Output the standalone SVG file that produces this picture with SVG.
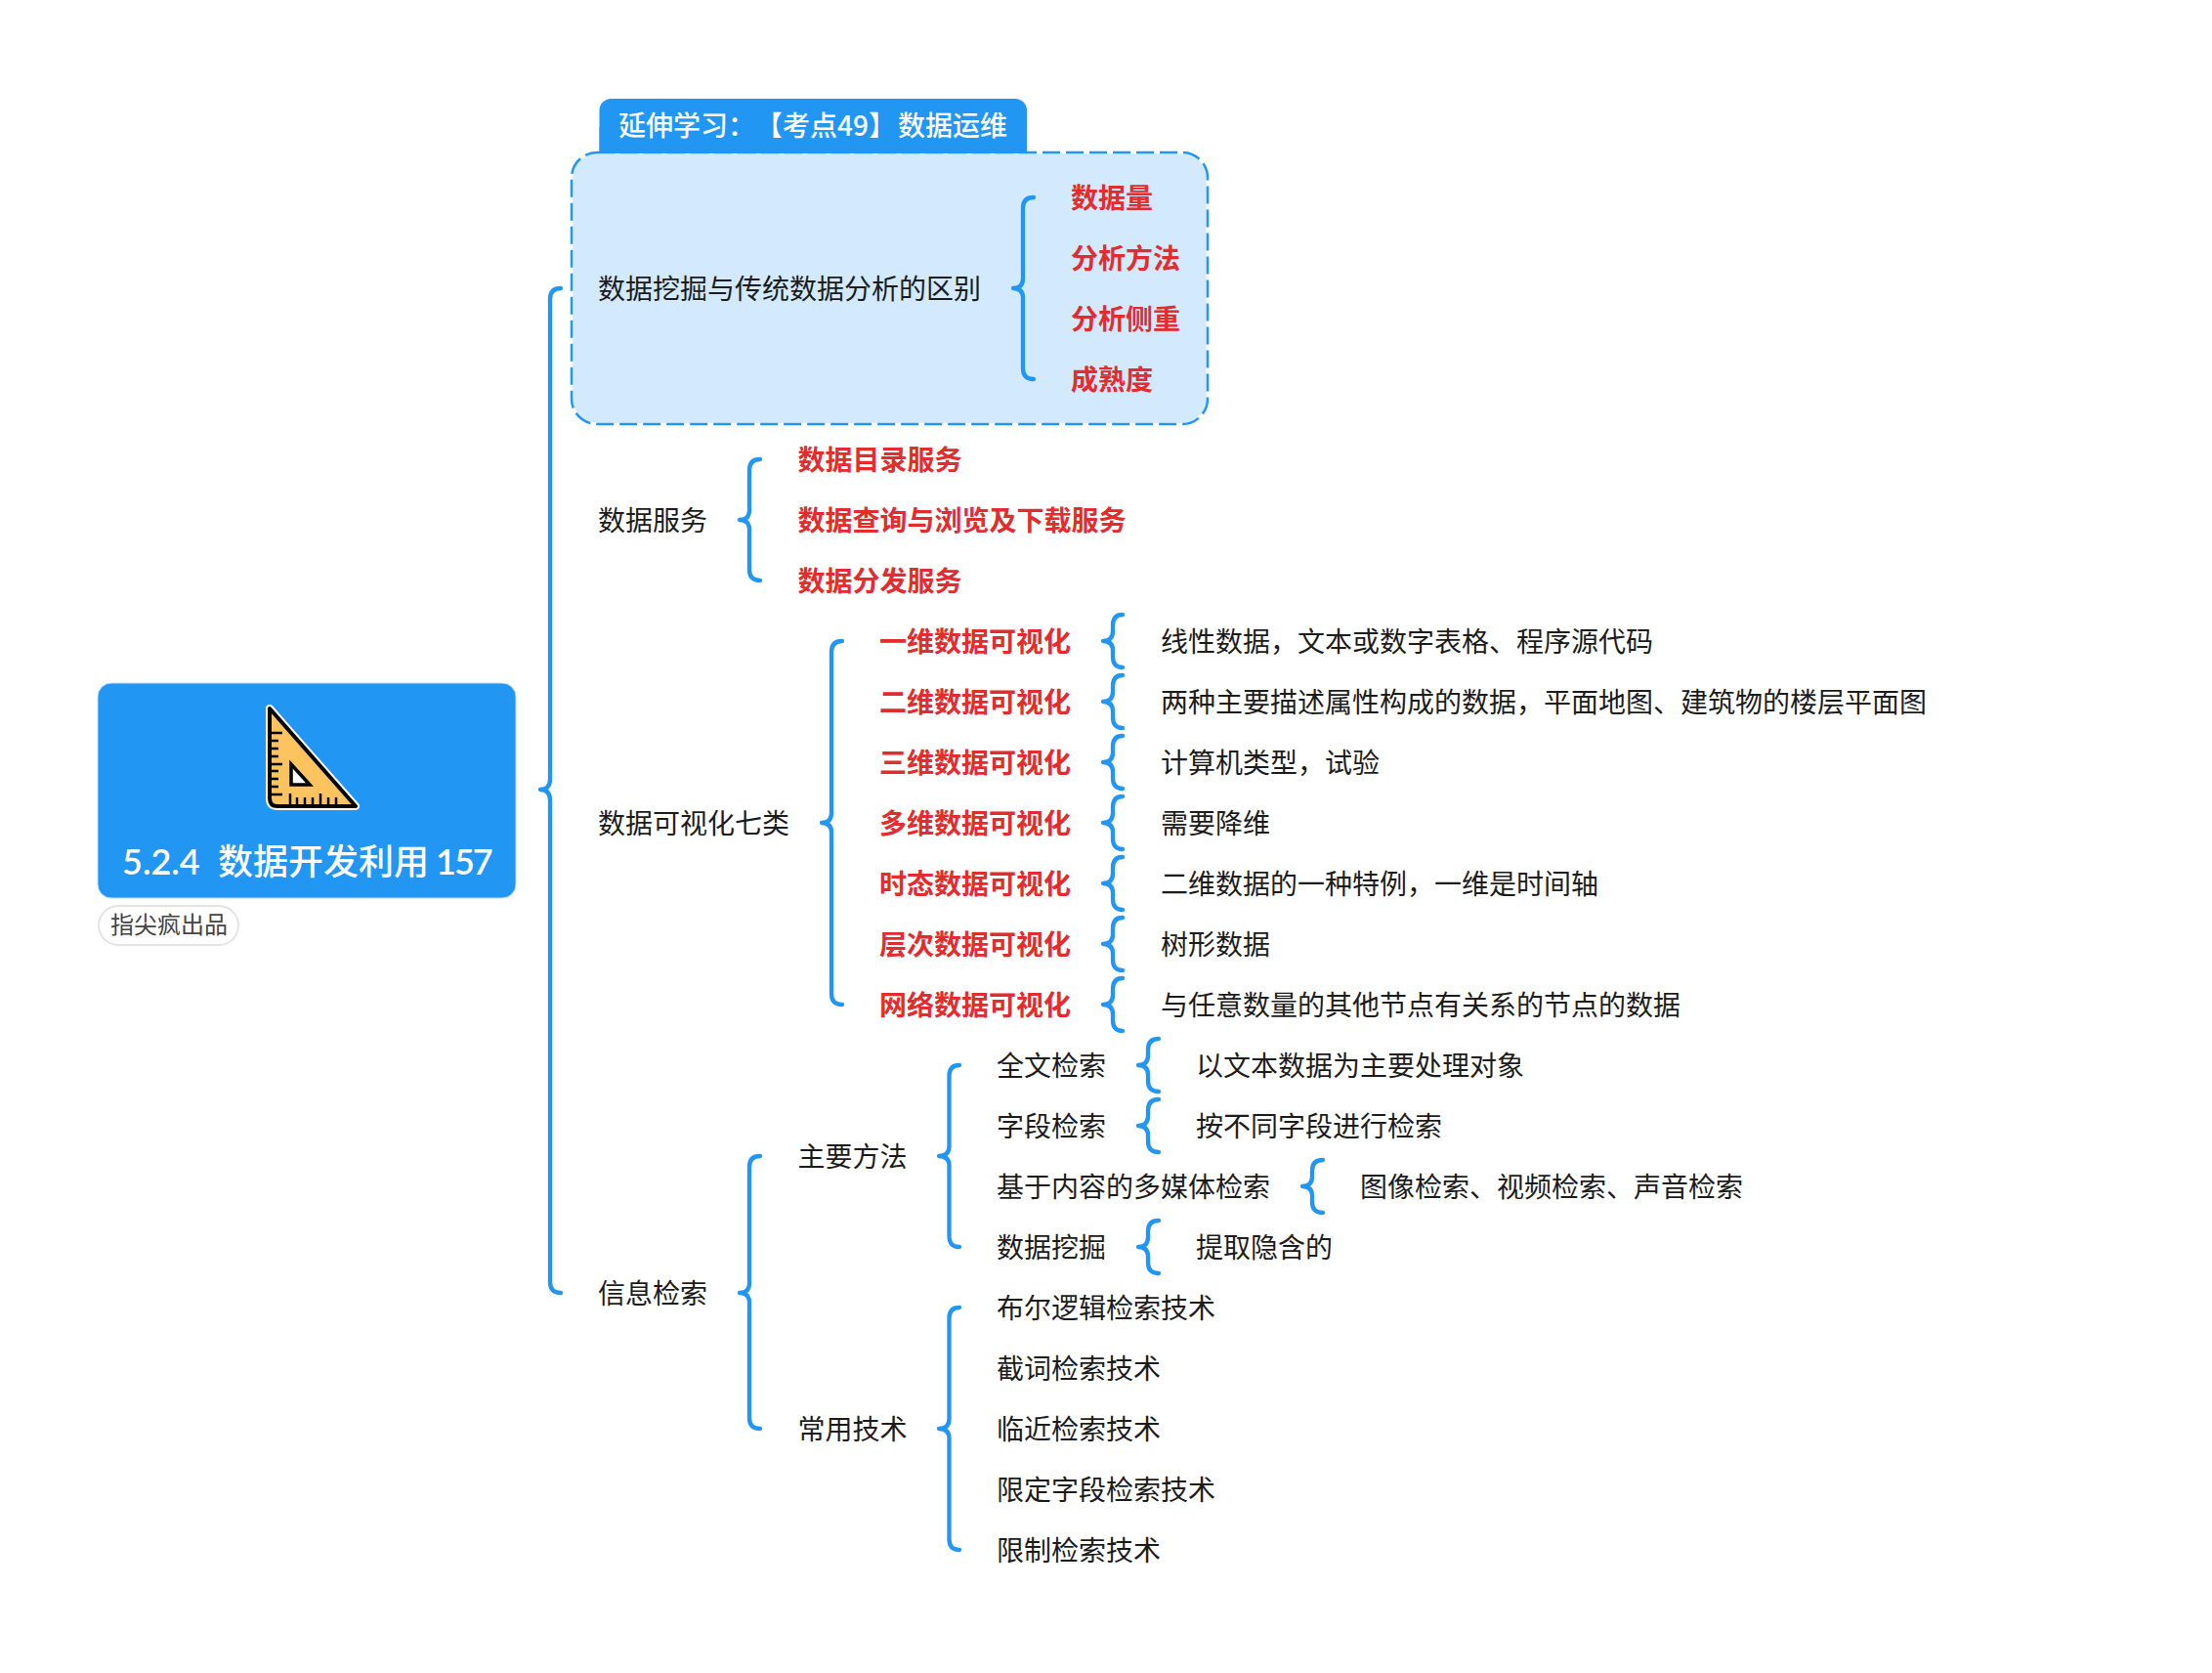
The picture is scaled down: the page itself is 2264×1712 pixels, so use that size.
<svg xmlns="http://www.w3.org/2000/svg" width="2264" height="1712" viewBox="0 0 2264 1712">
<style>
text{font-family:"Noto Sans CJK SC","Noto Sans",sans-serif;font-size:28px;fill:#1c1c1c;white-space:pre}
.r{fill:#e32c2d;font-weight:700}
.w{fill:#fff}
.b{fill:none;stroke:#2196f3;stroke-width:4.300;stroke-linecap:round;stroke-linejoin:round}
.l{font-family:Lato,"Noto Sans",sans-serif;font-weight:600}
</style>
<rect width="2264" height="1712" fill="#fff"/>
<g id="callout">
<path d="M613.5 160V113a12 12 0 0 1 12-12H1039a12 12 0 0 1 12 12V160Z" fill="#2196f3"/>
<rect x="585" y="156" width="651" height="278" rx="26" fill="#d3e9fd" stroke="#fff" stroke-width="2.500"/>
<rect x="585" y="156" width="651" height="278" rx="26" fill="none" stroke="#2196f3" stroke-width="2.500" stroke-dasharray="18 6"/>
<path d="M613.500 130H1051V157H613.500Z" fill="#2196f3"/>
<text class="w" y="139" font-weight="500"><tspan x="633">延伸学习：</tspan><tspan x="773">【考点49】</tspan><tspan x="919">数据运维</tspan></text>
</g>
<g id="connectors">
<path class="b" d="M574 295Q563 295 563 306V797Q563 808 553 808Q563 808 563 819V1312Q563 1323 574 1323"/>
<path class="b" d="M1058 202Q1047 202 1047 213V285Q1047 295 1037 295Q1047 295 1047 305V377Q1047 388 1058 388"/>
<path class="b" d="M778 470Q767 470 767 481V522Q767 532 757 532Q767 532 767 542V583Q767 594 778 594"/>
<path class="b" d="M862 656Q851 656 851 667V832Q851 842 841 842Q851 842 851 852V1017Q851 1028 862 1028"/>
<path class="b" d="M1149 629Q1139 629 1139 640V646Q1139 656 1129 656Q1139 656 1139 666V672Q1139 683 1149 683"/>
<path class="b" d="M1149 691Q1139 691 1139 702V708Q1139 718 1129 718Q1139 718 1139 728V734Q1139 745 1149 745"/>
<path class="b" d="M1149 753Q1139 753 1139 764V770Q1139 780 1129 780Q1139 780 1139 790V796Q1139 807 1149 807"/>
<path class="b" d="M1149 815Q1139 815 1139 826V832Q1139 842 1129 842Q1139 842 1139 852V858Q1139 869 1149 869"/>
<path class="b" d="M1149 877Q1139 877 1139 888V894Q1139 904 1129 904Q1139 904 1139 914V920Q1139 931 1149 931"/>
<path class="b" d="M1149 939Q1139 939 1139 950V956Q1139 966 1129 966Q1139 966 1139 976V982Q1139 993 1149 993"/>
<path class="b" d="M1149 1001Q1139 1001 1139 1012V1018Q1139 1028 1129 1028Q1139 1028 1139 1038V1044Q1139 1055 1149 1055"/>
<path class="b" d="M778 1183Q767 1183 767 1194V1313Q767 1323 757 1323Q767 1323 767 1333V1451Q767 1462 778 1462"/>
<path class="b" d="M982 1090Q971.500 1090 971.500 1101V1173Q971.500 1183 961 1183Q971.500 1183 971.500 1193V1265Q971.500 1276 982 1276"/>
<path class="b" d="M982 1338Q971.500 1338 971.500 1349V1452Q971.500 1462 961 1462Q971.500 1462 971.500 1472V1575Q971.500 1586 982 1586"/>
<path class="b" d="M1186 1063Q1175 1063 1175 1074V1080Q1175 1090 1165 1090Q1175 1090 1175 1100V1106Q1175 1117 1186 1117"/>
<path class="b" d="M1186 1125Q1175 1125 1175 1136V1142Q1175 1152 1165 1152Q1175 1152 1175 1162V1168Q1175 1179 1186 1179"/>
<path class="b" d="M1354 1187Q1343 1187 1343 1198V1204Q1343 1214 1333 1214Q1343 1214 1343 1224V1230Q1343 1241 1354 1241"/>
<path class="b" d="M1186 1249Q1175 1249 1175 1260V1266Q1175 1276 1165 1276Q1175 1276 1175 1286V1292Q1175 1303 1186 1303"/>
</g>
<g id="root">
<rect x="100" y="699" width="428" height="220" rx="14" fill="#2196f3" stroke="#bbdefb" stroke-width="1"/>
<path d="M276 725L364 825H284Q276 825 276 817Z" fill="#fdc35f" stroke="#fff" stroke-width="8" stroke-linejoin="round"/>
<path d="M276 725L364 825H284Q276 825 276 817Z" fill="#fdc35f" stroke="#000" stroke-width="4" stroke-linejoin="round"/>
<path d="M298 782V803H317Z" fill="#fff" stroke="#000" stroke-width="3.500"/>
<path d="M277 750H289M277 758H285M277 766H285M277 774H285M277 782H289M277 789H285M277 797H285M277 805H285M277 813H289M297 824V812M304 824V816M312 824V816M320 824V816M328 824V812M336 824V816M344 824V816" fill="none" stroke="#000" stroke-width="2.500"/>
<text class="w" y="895" style="font-size:36px"><tspan class="l" x="125">5.2.4</tspan><tspan x="223" font-weight="500">数据开发利用</tspan><tspan class="l" x="446" letter-spacing="-2">157</tspan></text>
</g>
<g id="tag">
<rect x="101" y="927" width="143" height="40" rx="20" fill="#fff" stroke="#e4e4e4" stroke-width="2"/>
<text x="113" y="955" style="font-size:24px;fill:#444">指尖疯出品</text>
</g>
<g id="n1"><text x="612" y="306">数据挖掘与传统数据分析的区别</text></g>
<g id="n1a"><text class="r" x="1096" y="213">数据量</text></g>
<g id="n1b"><text class="r" x="1096" y="275">分析方法</text></g>
<g id="n1c"><text class="r" x="1096" y="337">分析侧重</text></g>
<g id="n1d"><text class="r" x="1096" y="399">成熟度</text></g>
<g id="n2"><text x="612" y="543">数据服务</text></g>
<g id="n2a"><text class="r" x="816.500" y="481">数据目录服务</text></g>
<g id="n2b"><text class="r" x="816.500" y="543">数据查询与浏览及下载服务</text></g>
<g id="n2c"><text class="r" x="816.500" y="605">数据分发服务</text></g>
<g id="n3"><text x="612" y="853">数据可视化七类</text></g>
<g id="n3a"><text class="r" x="900" y="667">一维数据可视化</text><text x="1188" y="667">线性数据，文本或数字表格、程序源代码</text></g>
<g id="n3b"><text class="r" x="900" y="729">二维数据可视化</text><text x="1188" y="729">两种主要描述属性构成的数据，平面地图、建筑物的楼层平面图</text></g>
<g id="n3c"><text class="r" x="900" y="791">三维数据可视化</text><text x="1188" y="791">计算机类型，试验</text></g>
<g id="n3d"><text class="r" x="900" y="853">多维数据可视化</text><text x="1188" y="853">需要降维</text></g>
<g id="n3e"><text class="r" x="900" y="915">时态数据可视化</text><text x="1188" y="915">二维数据的一种特例，一维是时间轴</text></g>
<g id="n3f"><text class="r" x="900" y="977">层次数据可视化</text><text x="1188" y="977">树形数据</text></g>
<g id="n3g"><text class="r" x="900" y="1039">网络数据可视化</text><text x="1188" y="1039">与任意数量的其他节点有关系的节点的数据</text></g>
<g id="n4"><text x="612" y="1334">信息检索</text></g>
<g id="n4a"><text x="816.500" y="1194">主要方法</text></g>
<g id="n4a1"><text x="1020" y="1101">全文检索</text><text x="1224" y="1101">以文本数据为主要处理对象</text></g>
<g id="n4a2"><text x="1020" y="1163">字段检索</text><text x="1224" y="1163">按不同字段进行检索</text></g>
<g id="n4a3"><text x="1020" y="1225">基于内容的多媒体检索</text><text x="1392" y="1225">图像检索、视频检索、声音检索</text></g>
<g id="n4a4"><text x="1020" y="1287">数据挖掘</text><text x="1224" y="1287">提取隐含的</text></g>
<g id="n4b"><text x="816.500" y="1473">常用技术</text></g>
<g id="n4b1"><text x="1020" y="1349">布尔逻辑检索技术</text></g>
<g id="n4b2"><text x="1020" y="1411">截词检索技术</text></g>
<g id="n4b3"><text x="1020" y="1473">临近检索技术</text></g>
<g id="n4b4"><text x="1020" y="1535">限定字段检索技术</text></g>
<g id="n4b5"><text x="1020" y="1597">限制检索技术</text></g>
</svg>
